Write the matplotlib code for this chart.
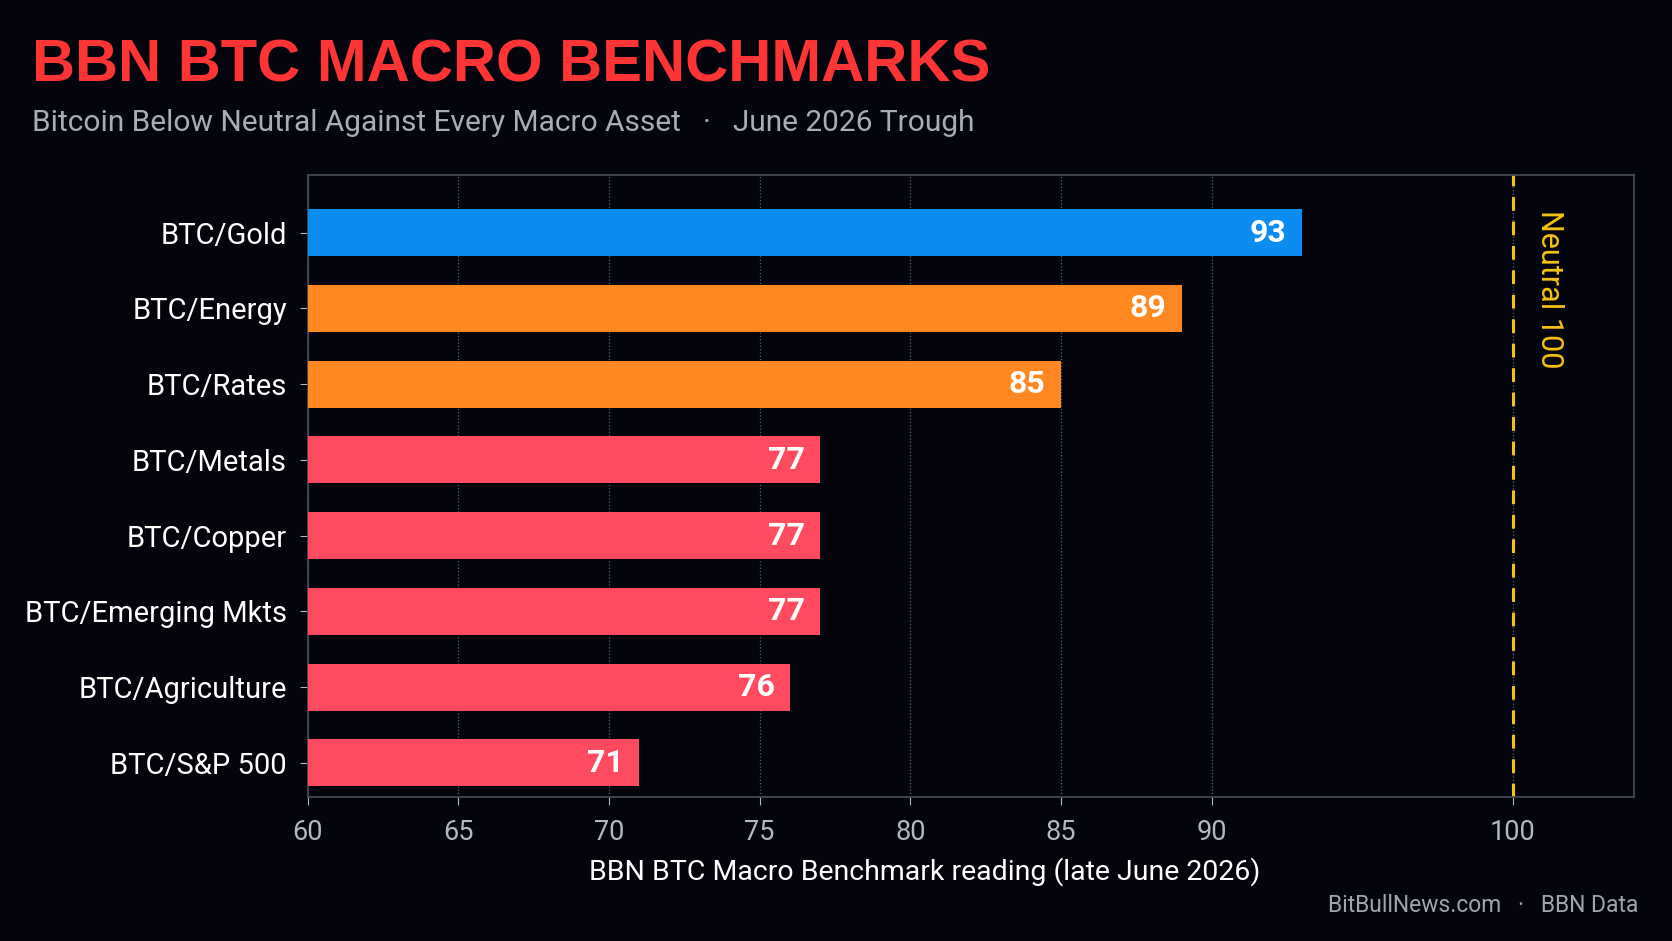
import matplotlib.pyplot as plt

# data (top to bottom)
pairs = ["BTC/Gold", "BTC/Energy", "BTC/Rates", "BTC/Metals", "BTC/Copper",
         "BTC/Emerging Mkts", "BTC/Agriculture", "BTC/S&P 500"]
readings = [93, 89, 85, 77, 77, 77, 76, 71]
groups = ["gold", "mid", "mid", "low", "low", "low", "low", "low"]
x_ticks = [60, 65, 70, 75, 80, 85, 90, 100]
neutral = 100

bg = "#04050c"
colors = {"gold": "#0a8cf0", "mid": "#ff8820", "low": "#ff4a5f"}

plt.rcParams["font.family"] = ["Roboto", "DejaVu Sans"]

fig = plt.figure(figsize=(16.72, 9.41), dpi=100, facecolor=bg)
ax = fig.add_axes([0.184, 0.153, 0.793, 0.661], facecolor=bg)

ypos = list(range(len(pairs)))
ax.barh(ypos, [r - 60 for r in readings], left=60, height=0.62,
        color=[colors[g] for g in groups], zorder=3)

for y, r in zip(ypos, readings):
    ax.annotate(str(r), (r, y), xytext=(-11, 0), textcoords="offset points",
                ha="right", va="center", color="white", fontsize=23,
                fontweight="bold", zorder=4)

ax.axvline(neutral, color="#f5c20f", lw=2.2, ls=(0, (4.5, 3.5)), zorder=2)
ax.text(neutral + 1.2, -0.3, f"Neutral {neutral}", rotation=-90, ha="center",
        va="top", color="#f5c20f", fontsize=22)

ax.set_xlim(60, 104)
ax.set_ylim(7.45, -0.76)
ax.set_xticks(x_ticks)
ax.set_yticks(ypos)
ax.set_yticklabels(pairs, color="white", fontsize=21)
ax.tick_params(axis="x", colors="#b4b8c0", labelsize=19.5, length=6, pad=10)
ax.tick_params(axis="y", colors="#b4b8c0", labelcolor="white", length=6, pad=9)
for t in ax.get_xticklabels():
    t.set_color("#b4b8c0")

ax.grid(axis="x", color="#5a5f6a", ls=":", lw=0.9, zorder=0)
for s in ax.spines.values():
    s.set_color("#4a4e58")
    s.set_linewidth(1.2)

ax.set_xlabel("BBN BTC Macro Benchmark reading (late June 2026)", color="white",
              fontsize=20.5, labelpad=10)
ax.xaxis.set_label_coords(0.465, -0.097)

fig.text(0.019, 0.93, "BBN BTC MACRO BENCHMARKS", color="#ff3434", fontsize=43,
         fontweight="bold", family=["Liberation Sans", "DejaVu Sans"], va="center")
fig.text(0.019, 0.869, "Bitcoin Below Neutral Against Every Macro Asset   \u00b7   June 2026 Trough",
         color="#a9adb6", fontsize=21.5, va="center")
fig.text(0.980, 0.038, "BitBullNews.com   \u00b7   BBN Data", color="#a0a4ad",
         fontsize=16.5, ha="right", va="center")

fig.savefig("out.png", dpi=100, facecolor=bg)
